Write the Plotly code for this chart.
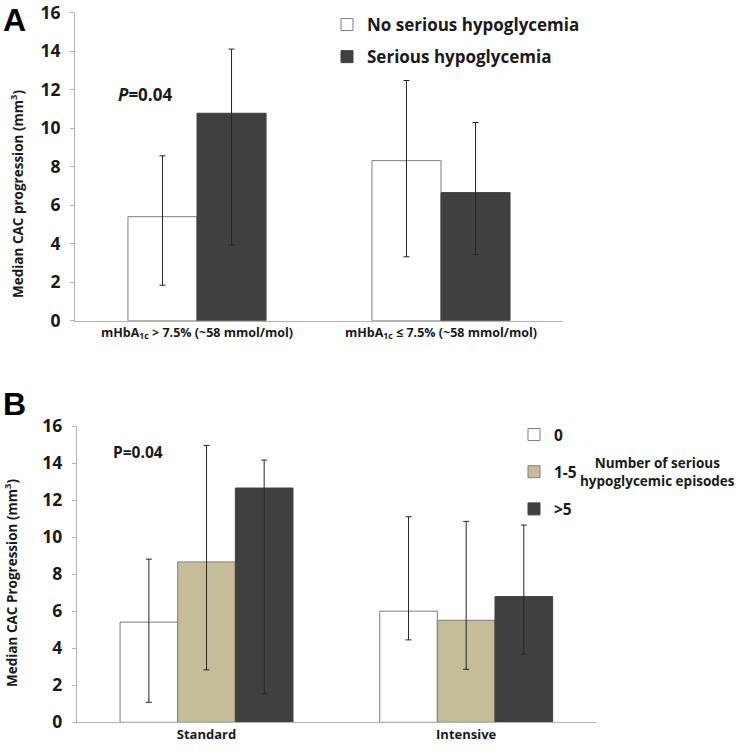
import plotly.graph_objects as go

# ---------------- data ----------------
cats_a = ["mHbA<sub>1c</sub> > 7.5% (~58 mmol/mol)", "mHbA<sub>1c</sub> ≤ 7.5% (~58 mmol/mol)"]
no_hypo = [5.40, 8.31]
no_hypo_hi = [8.56, 12.47]
no_hypo_lo = [1.84, 3.32]
hypo = [10.77, 6.65]
hypo_hi = [14.10, 10.29]
hypo_lo = [3.93, 3.43]

cats_b = ["Standard", "Intensive"]
ep0 = [5.41, 6.00]
ep0_hi = [8.81, 11.10]
ep0_lo = [1.08, 4.45]
ep15 = [8.66, 5.51]
ep15_hi = [14.95, 10.85]
ep15_lo = [2.83, 2.86]
ep5 = [12.65, 6.79]
ep5_hi = [14.16, 10.65]
ep5_lo = [1.53, 3.68]

y_ticks = [0, 2, 4, 6, 8, 10, 12, 14, 16]

FONT = "Open Sans"
WHITE = "#ffffff"
TAN = "#c5bd98"
DARK = "#404040"
EDGE = "#7f7f7f"
ERR = "#262626"


def err(v, hi, lo):
    return dict(type="data", symmetric=False,
                array=[h - x for h, x in zip(hi, v)],
                arrayminus=[x - l for x, l in zip(v, lo)],
                color=ERR, thickness=1, width=3)


fig = go.Figure()

# ---------------- panel A ----------------
wa = 0.283
fig.add_trace(go.Bar(x=cats_a, y=no_hypo, name="No serious hypoglycemia",
                     marker=dict(color=WHITE, line=dict(color=EDGE, width=1)),
                     width=wa, offset=-wa, error_y=err(no_hypo, no_hypo_hi, no_hypo_lo),
                     xaxis="x", yaxis="y", legend="legend", legendgroup="a1"))
fig.add_trace(go.Bar(x=cats_a, y=hypo, name="Serious hypoglycemia",
                     marker=dict(color=DARK, line=dict(color=DARK, width=1)),
                     width=wa, offset=0, error_y=err(hypo, hypo_hi, hypo_lo),
                     xaxis="x", yaxis="y", legend="legend", legendgroup="a2"))

# ---------------- panel B ----------------
wb = 0.222
fig.add_trace(go.Bar(x=cats_b, y=ep0, name="0",
                     marker=dict(color=WHITE, line=dict(color=EDGE, width=1)),
                     width=wb, offset=-1.5 * wb, error_y=err(ep0, ep0_hi, ep0_lo),
                     xaxis="x2", yaxis="y2", legend="legend2", legendgroup="b1"))
fig.add_trace(go.Bar(x=cats_b, y=ep15, name="1-5",
                     marker=dict(color=TAN, line=dict(color=EDGE, width=1)),
                     width=wb, offset=-0.5 * wb, error_y=err(ep15, ep15_hi, ep15_lo),
                     xaxis="x2", yaxis="y2", legend="legend2", legendgroup="b2"))
fig.add_trace(go.Bar(x=cats_b, y=ep5, name=">5",
                     marker=dict(color=DARK, line=dict(color=DARK, width=1)),
                     width=wb, offset=0.5 * wb, error_y=err(ep5, ep5_hi, ep5_lo),
                     xaxis="x2", yaxis="y2", legend="legend2", legendgroup="b3"))

W, H = 742, 752

def px(x):
    return x / W

def py(y):
    return 1 - y / H

axis_line = "#b3b3b3"
yax_common = dict(range=[0, 16], tickvals=y_ticks, ticktext=[str(t) for t in y_ticks],
                  showgrid=False, zeroline=False, showline=True, linecolor=axis_line,
                  linewidth=1, ticks="outside", ticklen=4, tickcolor=axis_line,
                  ticklabelstandoff=6, ticklabeloverflow="allow",
                  tickfont=dict(family=FONT, size=17.5, weight="bold", color="#1a1a1a"),
                  fixedrange=True, automargin=False)
xax_common = dict(showgrid=False, zeroline=False, showline=True, linecolor=axis_line,
                  linewidth=1, ticks="", fixedrange=True, automargin=False,
                  ticklabeloverflow="allow")

fig.update_layout(
    template="none",
    width=W, height=H,
    margin=dict(l=0, r=0, t=0, b=0),
    paper_bgcolor="white", plot_bgcolor="white",
    barmode="group",
    showlegend=True,
    xaxis=dict(domain=[px(75), px(563)], anchor="y",
               tickfont=dict(family=FONT, size=12.5, weight="bold", color="#1a1a1a"),
               **xax_common),
    yaxis=dict(domain=[py(320.7), py(12.5)], anchor="x", **yax_common),
    xaxis2=dict(domain=[px(76.7), px(596)], anchor="y2",
                tickfont=dict(family=FONT, size=13, weight="bold", color="#1a1a1a"),
                **xax_common),
    yaxis2=dict(domain=[py(722.3), py(426)], anchor="x2", **yax_common),
    legend=dict(x=px(327), y=py(7), xanchor="left", yanchor="top",
                font=dict(family=FONT, size=17, weight="bold", color="#1a1a1a"),
                bgcolor="rgba(0,0,0,0)", traceorder="grouped", tracegroupgap=7,
                itemclick=False, itemdoubleclick=False),
    legend2=dict(x=px(514), y=py(418), xanchor="left", yanchor="top",
                 font=dict(family=FONT, size=15.5, weight="bold", color="#1a1a1a"),
                 bgcolor="rgba(0,0,0,0)", traceorder="grouped", tracegroupgap=14,
                 itemclick=False, itemdoubleclick=False),
)

annots = [
    dict(text="<b>A</b>", x=px(1), y=py(0), xanchor="left", yanchor="top",
         font=dict(family="Liberation Sans", size=32, color="#000")),
    dict(text="<b>B</b>", x=px(1), y=py(384), xanchor="left", yanchor="top",
         font=dict(family="Liberation Sans", size=32, color="#000")),
    dict(text="<b>Median CAC progression (mm<sup>3</sup>)</b>", x=px(17), y=py(194),
         xanchor="center", yanchor="middle", textangle=-90,
         font=dict(family=FONT, size=13.5, color="#1a1a1a")),
    dict(text="<b>Median CAC Progression (mm<sup>3</sup>)</b>", x=px(11), y=py(583),
         xanchor="center", yanchor="middle", textangle=-90,
         font=dict(family=FONT, size=13.5, color="#1a1a1a")),
    dict(text="<b><i>P</i>=0.04</b>", x=px(116), y=py(94), xanchor="left", yanchor="middle",
         font=dict(family=FONT, size=17, color="#1a1a1a")),
    dict(text="<b>P=0.04</b>", x=px(111), y=py(452), xanchor="left", yanchor="middle",
         font=dict(family=FONT, size=15.5, color="#1a1a1a")),
    dict(text="<b>Number of serious<br>hypoglycemic episodes</b>", x=px(657), y=py(472),
         xanchor="center", yanchor="middle", align="center",
         font=dict(family=FONT, size=13.5, color="#1a1a1a")),
]
for a in annots:
    a.update(xref="paper", yref="paper", showarrow=False)
fig.update_layout(annotations=annots)

fig.write_html("out.html", config={"displayModeBar": False},
               post_script="document.body.style.margin='0';document.body.style.overflow='hidden';")
